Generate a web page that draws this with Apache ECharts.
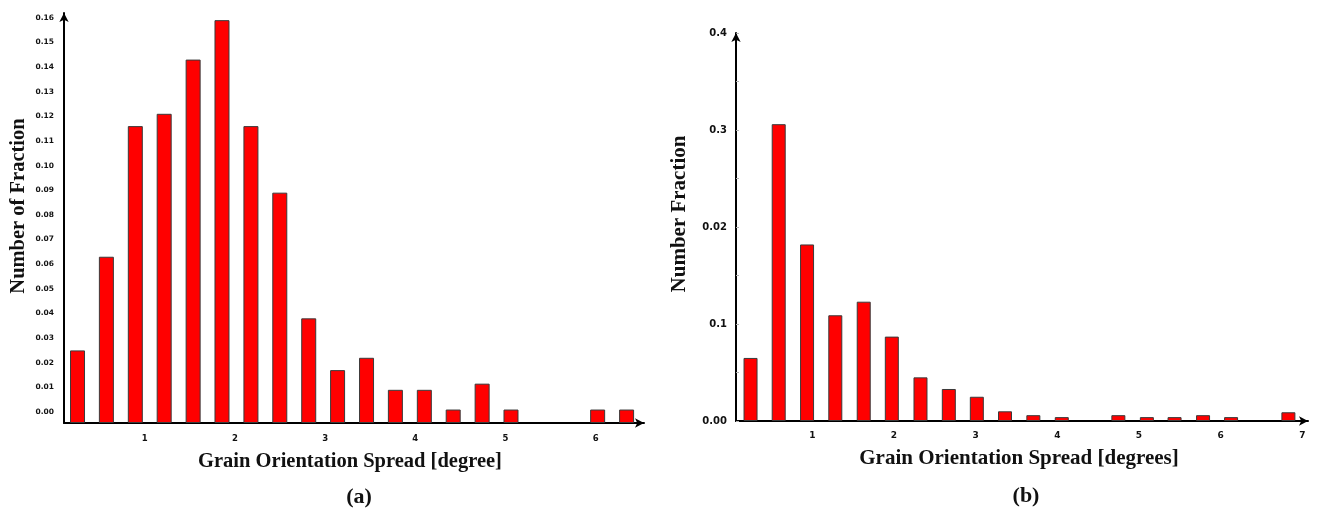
<!DOCTYPE html>
<html>
<head>
<meta charset="utf-8">
<script src="https://cdn.jsdelivr.net/npm/echarts@6/dist/echarts.min.js"></script>
<style>
  html, body { margin: 0; padding: 0; background: #fff; }
  #chart { width: 1322px; height: 510px; }
</style>
</head>
<body>
<div id="chart"></div>
<script>
// (a) grain orientation spread histogram: bin centres [degree] and number fractions
const binsA = [0.254, 0.574, 0.895, 1.215, 1.536, 1.856, 2.177, 2.497, 2.818, 3.138,
               3.459, 3.779, 4.100, 4.420, 4.741, 5.061, 5.381, 5.702, 6.022, 6.343];
const fracA = [0.025, 0.063, 0.116, 0.121, 0.143, 0.159, 0.116, 0.089, 0.038, 0.017,
               0.022, 0.009, 0.009, 0.001, 0.0115, 0.001, 0, 0, 0.001, 0.001];
const xTicksA = [1, 2, 3, 4, 5, 6];
const yTicksA = [0, 0.01, 0.02, 0.03, 0.04, 0.05, 0.06, 0.07, 0.08,
                 0.09, 0.10, 0.11, 0.12, 0.13, 0.14, 0.15, 0.16];

// (b) grain orientation spread histogram: bin centres [degrees] and number fractions
const binsB = [0.244, 0.589, 0.936, 1.282, 1.630, 1.974, 2.325, 2.672, 3.015, 3.360,
               3.707, 4.055, 4.402, 4.748, 5.097, 5.436, 5.785, 6.128, 6.477, 6.830];
const fracB = [0.065, 0.306, 0.182, 0.109, 0.123, 0.087, 0.045, 0.033, 0.025, 0.010,
               0.006, 0.004, 0, 0.006, 0.004, 0.004, 0.006, 0.004, 0, 0.009];
const xTicksB = [1, 2, 3, 4, 5, 6, 7];
const yTicksB = [0, 0.1, 0.2, 0.3, 0.4];
const yTickTextB = ['0.00', '0.1', '0.02', '0.3', '0.4'];

const pairs = (xs, ys) => xs.map((x, i) => [x, ys[i]]).filter(p => p[1] > 0);

const SERIF = '"Liberation Serif", "Times New Roman", serif';
const SANS = '"DejaVu Sans", Verdana, sans-serif';
const INK = '#111';

const axisLine = {
  show: true,
  onZero: false,
  symbol: ['none', 'arrow'],
  symbolSize: [7, 9],
  lineStyle: { color: '#000', width: 2 }
};

const barStyle = { color: '#ff0000', borderColor: '#3a3a3a', borderWidth: 1 };

const option = {
  animation: false,
  backgroundColor: '#fff',
  grid: [
    { left: 64, top: 13, width: 580, height: 410 },
    { left: 736, top: 33, width: 572, height: 388 }
  ],
  xAxis: [
    {
      gridIndex: 0, type: 'value', min: 0.104, max: 6.536,
      axisLine: axisLine, axisTick: { show: false }, splitLine: { show: false },
      axisLabel: {
        customValues: xTicksA, margin: 11,
        fontFamily: SANS, fontWeight: 'bold', fontSize: 8.5, color: INK
      }
    },
    {
      gridIndex: 1, type: 'value', min: 0.066, max: 7.07,
      axisLine: axisLine, axisTick: { show: false }, splitLine: { show: false },
      axisLabel: {
        customValues: xTicksB, margin: 10,
        fontFamily: SANS, fontWeight: 'bold', fontSize: 9, color: INK
      }
    }
  ],
  yAxis: [
    {
      gridIndex: 0, type: 'value', min: -0.00446, max: 0.1619, startValue: -0.00446,
      axisLine: axisLine, axisTick: { show: false }, splitLine: { show: false },
      axisLabel: {
        customValues: yTicksA, margin: 10,
        formatter: v => v.toFixed(2),
        fontFamily: SANS, fontWeight: 'bold', fontSize: 7.5, color: INK
      }
    },
    {
      gridIndex: 1, type: 'value', min: 0, max: 0.4, interval: 0.05,
      axisLine: axisLine, splitLine: { show: false },
      axisTick: { show: true, inside: true, length: 3, lineStyle: { color: '#b0b0b0', width: 1 } },
      axisLabel: {
        customValues: yTicksB, margin: 9,
        formatter: v => yTickTextB[yTicksB.findIndex(t => Math.abs(t - v) < 1e-9)],
        fontFamily: SANS, fontWeight: 'bold', fontSize: 10, color: INK
      }
    }
  ],
  series: [
    {
      type: 'bar', xAxisIndex: 0, yAxisIndex: 0, barWidth: 15,
      startValue: -0.00446,
      itemStyle: barStyle, data: pairs(binsA, fracA)
    },
    {
      type: 'bar', xAxisIndex: 1, yAxisIndex: 1, barWidth: 14,
      itemStyle: barStyle, data: pairs(binsB, fracB)
    }
  ],
  graphic: [
    {
      type: 'text', x: 19, y: 206, rotation: Math.PI / 2,
      style: { text: 'Number of Fraction', font: 'bold 20.5px ' + SERIF, fill: INK, align: 'center', verticalAlign: 'middle' }
    },
    {
      type: 'text', x: 350, y: 462,
      style: { text: 'Grain Orientation Spread [degree]', font: 'bold 20.5px ' + SERIF, fill: INK, align: 'center', verticalAlign: 'middle' }
    },
    {
      type: 'text', x: 359, y: 497,
      style: { text: '(a)', font: 'bold 22px ' + SERIF, fill: INK, align: 'center', verticalAlign: 'middle' }
    },
    {
      type: 'text', x: 680, y: 214, rotation: Math.PI / 2,
      style: { text: 'Number Fraction', font: 'bold 21px ' + SERIF, fill: INK, align: 'center', verticalAlign: 'middle' }
    },
    {
      type: 'text', x: 1019, y: 459,
      style: { text: 'Grain Orientation Spread [degrees]', font: 'bold 21px ' + SERIF, fill: INK, align: 'center', verticalAlign: 'middle' }
    },
    {
      type: 'text', x: 1026, y: 496,
      style: { text: '(b)', font: 'bold 22px ' + SERIF, fill: INK, align: 'center', verticalAlign: 'middle' }
    }
  ]
};

const chart = echarts.init(document.getElementById('chart'), null, { renderer: 'canvas' });
chart.setOption(option);
</script>
</body>
</html>
